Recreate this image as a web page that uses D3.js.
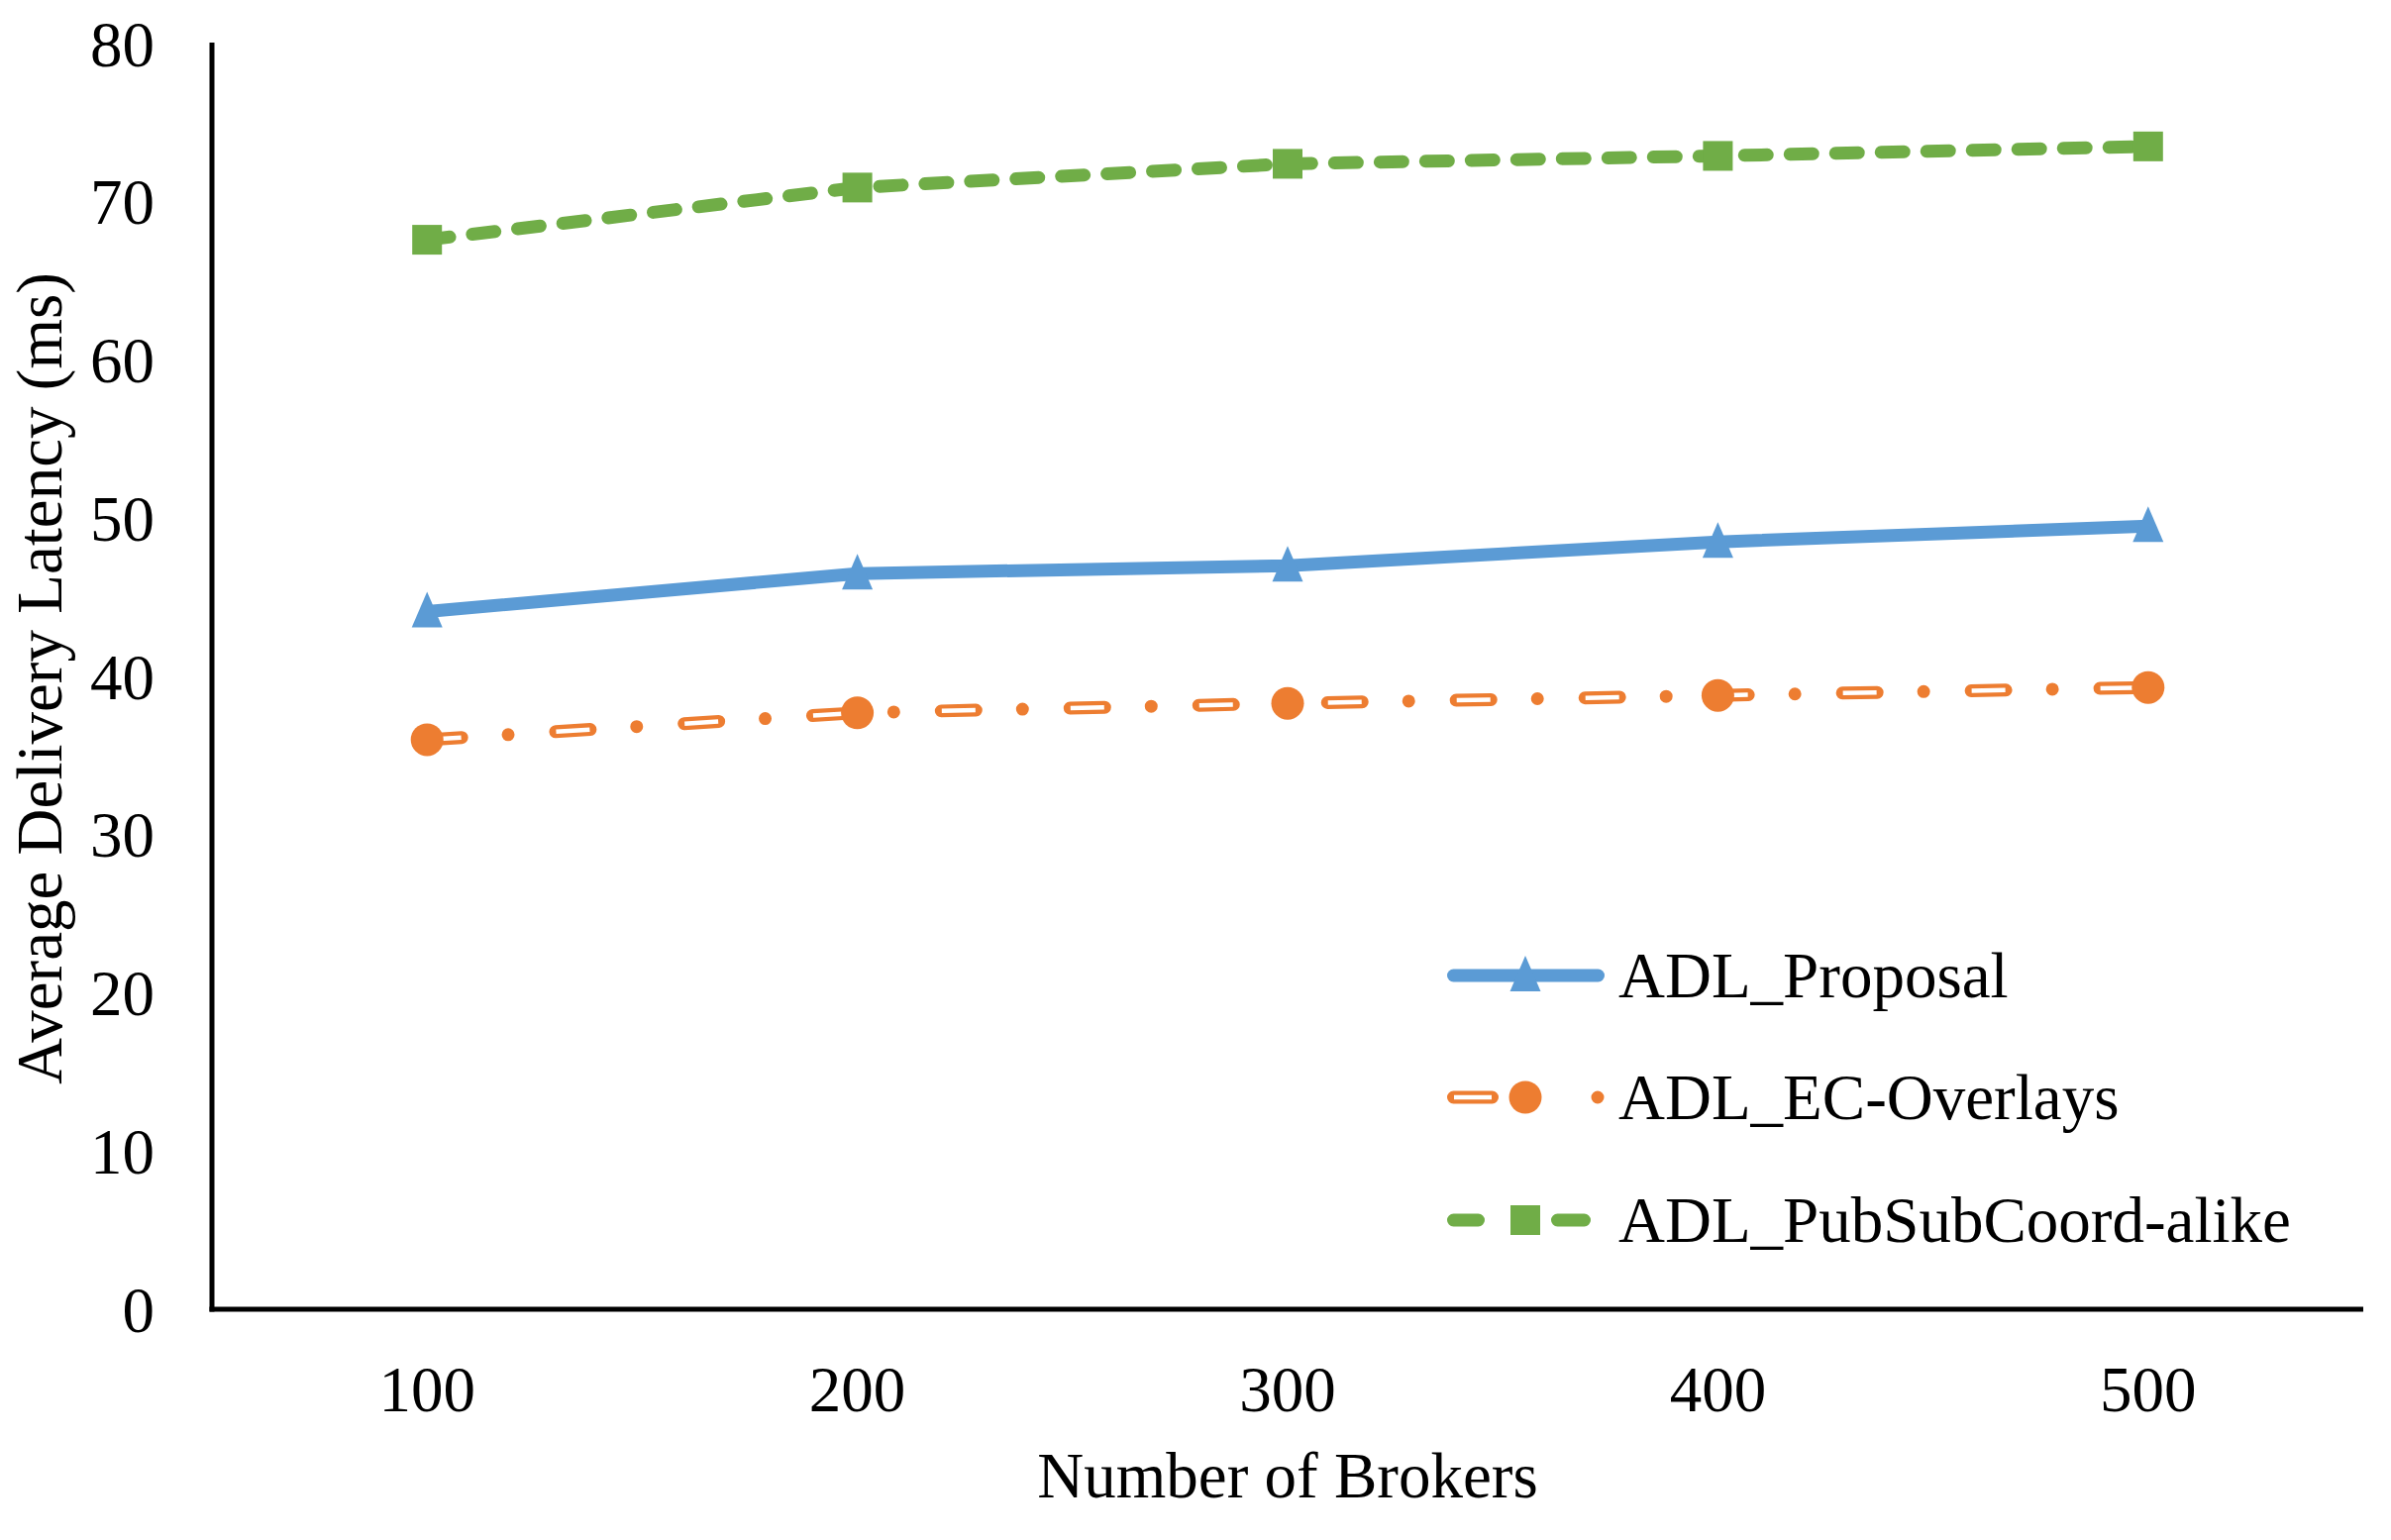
<!DOCTYPE html>
<html>
<head>
<meta charset="utf-8">
<script src="https://cdn.jsdelivr.net/npm/d3@7"></script>
<style>
  html, body { margin: 0; padding: 0; background: #fff; }
  svg { display: block; }
  text { font-family: "Liberation Serif", "Times New Roman", serif; fill: #000; }
</style>
</head>
<body>
<svg id="chart" width="2414" height="1555"></svg>
<script>
const categories = ["100", "200", "300", "400", "500"];
const proposal = [44.1, 46.5, 47.0, 48.5, 49.5];
const ecOverlays = [36.0, 37.7, 38.3, 38.8, 39.3];
const pubSubCoord = [67.6, 70.9, 72.4, 72.9, 73.5];
const yTicks = [0, 10, 20, 30, 40, 50, 60, 70, 80];
const seriesNames = ["ADL_Proposal", "ADL_EC-Overlays", "ADL_PubSubCoord-alike"];
const xTitle = "Number of Brokers";
const yTitle = "Average Delivery Latency (ms)";

(function () {
const svg = d3.select("#chart");
const pLeft = 214, pRight = 2386, pTop = 44, pBottom = 1322;
const fontSize = 65;
const blue = "#5B9BD5", orange = "#ED7D31", green = "#70AD47";

const x = d3.scaleBand().domain(categories).range([pLeft, pRight]).paddingInner(0).paddingOuter(0);
const xc = c => x(c) + x.bandwidth() / 2;
const y = d3.scaleLinear().domain([0, 80]).range([pBottom, pTop]);

// Y axis
const yAxis = d3.axisLeft(y).tickValues(yTicks).tickSize(0).tickPadding(58);
const gy = svg.append("g").attr("transform", `translate(${pLeft},0)`).call(yAxis);
gy.select(".domain").remove();
gy.selectAll("text").style("font-size", fontSize + "px").attr("font-family", "Liberation Serif").attr("dy", "0.34em");

// X axis
const xAxis = d3.axisBottom(x).tickSize(0).tickPadding(56);
const gx = svg.append("g").attr("transform", `translate(0,${pBottom})`).call(xAxis);
gx.select(".domain").remove();
gx.selectAll("text").style("font-size", fontSize + "px").attr("font-family", "Liberation Serif").attr("dy", "0.72em");

// axis lines
svg.append("line").attr("x1", pLeft).attr("x2", pLeft).attr("y1", pTop - 1).attr("y2", pBottom + 2.5)
  .attr("stroke", "#000").attr("stroke-width", 5);
svg.append("line").attr("x1", pLeft - 2.5).attr("x2", pRight).attr("y1", pBottom).attr("y2", pBottom)
  .attr("stroke", "#000").attr("stroke-width", 5);

// titles
svg.append("text").attr("x", (pLeft + pRight) / 2).attr("y", 1512).attr("text-anchor", "middle")
  .style("font-size", fontSize + "px").text(xTitle);
svg.append("text").attr("transform", `translate(62,${(pTop + pBottom) / 2 + 2})rotate(-90)`)
  .attr("text-anchor", "middle").style("font-size", fontSize + "px").text(yTitle);

const line = d3.line().x((d, i) => xc(categories[i])).y(d => y(d));

// green dashed
svg.append("path").datum(pubSubCoord).attr("d", line).attr("fill", "none")
  .attr("stroke", green).attr("stroke-width", 13).attr("stroke-linecap", "round")
  .attr("stroke-linejoin", "round").attr("stroke-dasharray", "23 23");

// blue solid
svg.append("path").datum(proposal).attr("d", line).attr("fill", "none")
  .attr("stroke", blue).attr("stroke-width", 13).attr("stroke-linejoin", "round");

// orange compound dash-dot
svg.append("path").datum(ecOverlays).attr("d", line).attr("fill", "none")
  .attr("stroke", orange).attr("stroke-width", 13).attr("stroke-linecap", "round")
  .attr("stroke-linejoin", "round").attr("stroke-dasharray", "35 47 0 48");
svg.append("path").datum(ecOverlays).attr("d", line).attr("fill", "none")
  .attr("stroke", "#fff").attr("stroke-width", 4.5).attr("stroke-linecap", "butt")
  .attr("stroke-dasharray", "34 96").attr("stroke-dashoffset", -0.5);

// markers
const triPath = "M0,-20 L15.5,16 L-15.5,16 Z";
svg.append("g").selectAll("path").data(proposal).join("path")
  .attr("d", triPath).attr("fill", blue)
  .attr("transform", (d, i) => `translate(${xc(categories[i])},${y(d)})`);
svg.append("g").selectAll("circle").data(ecOverlays).join("circle")
  .attr("cx", (d, i) => xc(categories[i])).attr("cy", d => y(d)).attr("r", 16.5).attr("fill", orange);
svg.append("g").selectAll("rect").data(pubSubCoord).join("rect")
  .attr("x", (d, i) => xc(categories[i]) - 15).attr("y", d => y(d) - 15)
  .attr("width", 30).attr("height", 30).attr("fill", green);

// legend
const lx0 = 1467.5, lx1 = 1613.5, lmid = 1540, ltx = 1634;
const ly = [985, 1108, 1232];
const lg = svg.append("g");
lg.append("line").attr("x1", lx0).attr("x2", lx1).attr("y1", ly[0]).attr("y2", ly[0])
  .attr("stroke", blue).attr("stroke-width", 13).attr("stroke-linecap", "round");
lg.append("path").attr("d", triPath).attr("fill", blue).attr("transform", `translate(${lmid},${ly[0]})`);
lg.append("line").attr("x1", lx0).attr("x2", lx1).attr("y1", ly[1]).attr("y2", ly[1])
  .attr("stroke", orange).attr("stroke-width", 13).attr("stroke-linecap", "round")
  .attr("stroke-dasharray", "39 106.5 0 300");
lg.append("line").attr("x1", lx0).attr("x2", lx1).attr("y1", ly[1]).attr("y2", ly[1])
  .attr("stroke", "#fff").attr("stroke-width", 4.5).attr("stroke-dasharray", "38 300").attr("stroke-dashoffset", -0.5);
lg.append("circle").attr("cx", lmid).attr("cy", ly[1]).attr("r", 16.5).attr("fill", orange);
lg.append("line").attr("x1", lx0).attr("x2", 1600).attr("y1", ly[2]).attr("y2", ly[2])
  .attr("stroke", green).attr("stroke-width", 13).attr("stroke-linecap", "round")
  .attr("stroke-dasharray", "25 80 27 100");
lg.append("rect").attr("x", lmid - 15).attr("y", ly[2] - 15).attr("width", 30).attr("height", 30).attr("fill", green);

lg.selectAll("text.leg").data(seriesNames).join("text").attr("class", "leg")
  .attr("x", ltx).attr("y", (d, i) => ly[i]).attr("dy", "0.34em")
  .style("font-size", fontSize + "px").text(d => d);
})();
</script>
</body>
</html>
